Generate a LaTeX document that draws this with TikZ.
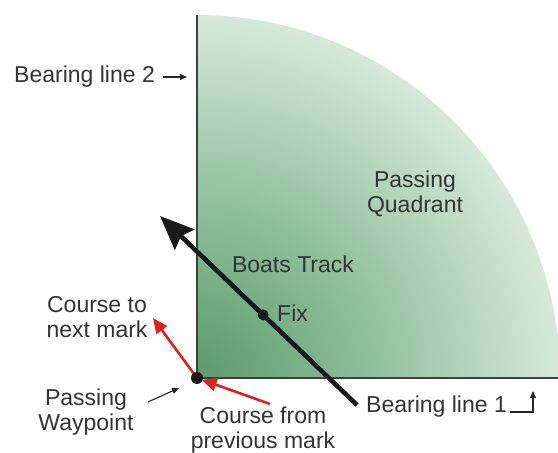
\documentclass[tikz,border=0pt]{standalone}
\usepackage{fontspec}
\setmainfont{Liberation Sans}
\usetikzlibrary{arrows.meta,calc}
\definecolor{gdark}{HTML}{5A9A6B}
\definecolor{gmid}{HTML}{8FC09C}
\definecolor{glight}{HTML}{D6E9D9}
\definecolor{txt}{HTML}{333333}
\definecolor{redarr}{HTML}{E0201E}
\pgfdeclareradialshading{quadshade}{\pgfpoint{0bp}{0bp}}{color(0bp)=(gdark); color(12bp)=(gmid); color(25bp)=(glight); color(50bp)=(glight)}
\begin{document}
\begin{tikzpicture}[x=1pt,y=1pt,
  lbl/.style={text=txt,inner sep=0pt,font=\fontsize{23}{25}\selectfont,align=center},
  redarrow/.style={draw=redarr,line width=2.6pt,-{Triangle[length=15pt,width=13pt]}},
  thinarrow/.style={draw=black!85,line width=1.1pt,-{Triangle[length=7pt,width=6pt]}},
  border/.style={draw=black!75,line width=1.3pt}]
\useasboundingbox (0,0) rectangle (558,453);
\coordinate (O) at (197,75);
\coordinate (Top) at (197,438);
\coordinate (Right) at (558,75);
% quadrant with radial shading
\begin{scope}
  \clip (197,75) rectangle (558,453);
  \clip (O) circle (363);
  \shade[shading=quadshade] (O) circle (363);
\end{scope}
\draw[border] (Top) -- (O) -- (Right);
% boat track
\coordinate (S) at (357,48);
\coordinate (T) at (160,237);
\draw[line width=4.6pt,black!90,-{Stealth[length=34pt,width=28pt,inset=5pt]}] (S) -- (T);
\coordinate (F) at ($(S)!0.477!(T)$);
\fill[black!90] (F) circle (5.5);
% red arrows
\coordinate (CN) at (153,135);
\coordinate (CP) at (270,49);
\draw[redarrow] (O) -- (CN);
\draw[redarrow,shorten >=5pt] (CP) -- (O);
\fill[black!90] (O) circle (6);
% labels
\node[lbl,anchor=base west] (bl2) at (14,370) {Bearing line 2};
\coordinate (b2a) at (163,376);
\coordinate (b2b) at (187,376);
\draw[thinarrow] (b2a) -- (b2b);
\node[lbl] (pq) at (415,259) {Passing\\Quadrant};
\node[lbl,anchor=base] (bt) at (293,180) {Boats Track};
\node[lbl,anchor=base west] (fix) at (277,131) {Fix};
\node[lbl] (cn) at (97,136) {Course to\\next mark};
\node[lbl] (pw) at (86,41) {Passing\\Waypoint};
\node[lbl] (cp) at (263,23) {Course from\\previous mark};
\node[lbl,anchor=base west] (bl1) at (366,40) {Bearing line 1};
\coordinate (pwa) at (148,51);
\coordinate (pwb) at (179,65);
\draw[thinarrow] (pwa) -- (pwb);
\coordinate (h1) at (510,41);
\coordinate (h2) at (533,41);
\coordinate (h3) at (533,62);
\draw[thinarrow] (h1) -- (h2) -- (h3);
\end{tikzpicture}
\end{document}
